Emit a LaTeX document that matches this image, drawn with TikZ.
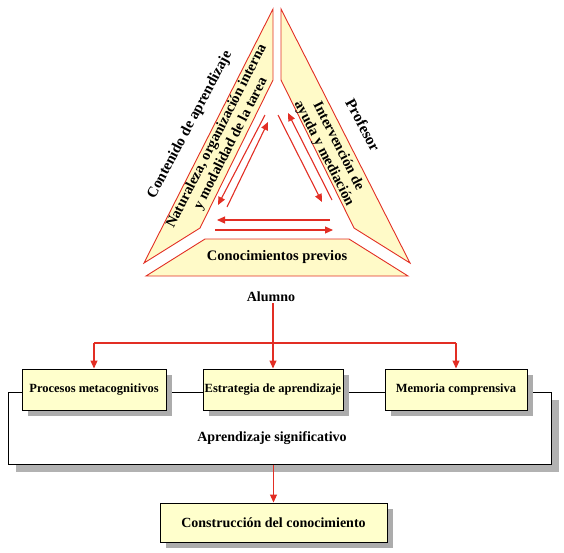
\documentclass[tikz,border=0pt]{standalone}
\usepackage{fontspec}
\setmainfont{Liberation Serif}
\usetikzlibrary{arrows.meta,shadows}
\definecolor{myred}{RGB}{226,46,36}
\definecolor{paleyellow}{RGB}{255,255,204}
\definecolor{tripale}{RGB}{255,250,200}
\begin{document}
\begin{tikzpicture}[x=1pt,y=-1pt,
  piece/.style={draw=myred, line width=0.9pt, fill=tripale, line join=miter},
  redarrow/.style={draw=myred, line width=1.1pt, -{Triangle[length=8pt,width=7pt]}},
  redline/.style={draw=myred, line width=1.1pt},
  boxstyle/.style={draw=black, line width=1pt, fill=paleyellow, inner sep=0pt,
    font=\bfseries\fontsize{12.5}{14}\selectfont,
    drop shadow={shadow xshift=6pt, shadow yshift=-6pt, fill=gray!65, opacity=1}},
  framestyle/.style={draw=black, line width=1pt, fill=white, inner sep=0pt,
    drop shadow={shadow xshift=8pt, shadow yshift=-8pt, fill=gray!60, opacity=1}},
  lbl/.style={font=\bfseries\fontsize{14}{16}\selectfont, inner sep=1pt},
  tritext/.style={font=\bfseries\fontsize{14.5}{16}\selectfont, align=center, inner sep=0pt},
]
\useasboundingbox (0,0) rectangle (564,552);

% triangle pieces
\draw[piece] (144,263) -- (273,9) -- (273,80) -- (200,228) -- cycle;
\draw[piece] (410,263) -- (281,9) -- (281,80) -- (354,228) -- cycle;
\draw[piece] (146,276) -- (205,239) -- (349,239) -- (408,276) -- cycle;

\node[tritext, rotate=63] (naturaleza) at (224,140) {Naturaleza, organización interna\\y modalidad de la tarea};
\node[tritext, rotate=-63] (intervencion) at (331,150) {Intervención de\\ayuda y mediación};
\node[tritext] (conocimientos) at (277,257) {Conocimientos previos};
\node[tritext, font=\bfseries\fontsize{15}{16}\selectfont, rotate=62] (contenido) at (190,125) {Contenido de aprendizaje};
\node[tritext, font=\bfseries\fontsize{15.5}{16}\selectfont, rotate=-62] (profesor) at (363,125) {Profesor};

% inner arrows
\coordinate (la1) at (265,115); \coordinate (la2) at (218,205);
\coordinate (lb1) at (227,207); \coordinate (lb2) at (268,122);
\coordinate (rc1) at (332,200); \coordinate (rc2) at (288,113);
\coordinate (rd1) at (278,115); \coordinate (rd2) at (322,202);
\coordinate (bt1) at (330,220); \coordinate (bt2) at (217,220);
\coordinate (bb1) at (215,230); \coordinate (bb2) at (333,230);
\draw[redarrow] (la1) -- (la2);
\draw[redarrow] (lb1) -- (lb2);
\draw[redarrow] (rc1) -- (rc2);
\draw[redarrow] (rd1) -- (rd2);
\draw[redarrow] (bt1) -- (bt2);
\draw[redarrow] (bb1) -- (bb2);

\node[lbl] (alumno) at (271,297) {Alumno};

% frame
\node[framestyle, minimum width=543pt, minimum height=72pt] (frame) at (279.5,428) {};
\node[lbl] (aprend) at (272,438) {Aprendizaje significativo};

% boxes
\node[boxstyle, minimum width=144pt, minimum height=41pt] (b1) at (94,389.5) {Procesos metacognitivos};
\node[boxstyle, minimum width=140pt, minimum height=41pt] (b2) at (273,389.5) {Estrategia de aprendizaje};
\node[boxstyle, minimum width=142pt, minimum height=41pt] (b3) at (456,389.5) {Memoria comprensiva};
\node[boxstyle, font=\bfseries\fontsize{14}{16}\selectfont, minimum width=227pt, minimum height=39pt] (fin) at (273.5,522.5) {Construcción del conocimiento};

% connectors
\coordinate (hl) at (0,343);
\draw[redline] (b1.north |- hl) -- (b3.north |- hl);
\draw[redarrow] (alumno.south -| b2.north) -- (b2.north);
\draw[redarrow] (b1.north |- hl) -- (b1.north);
\draw[redarrow] (b3.north |- hl) -- (b3.north);
\draw[redarrow] (frame.south -| fin.north) -- (fin.north);
\end{tikzpicture}
\end{document}
